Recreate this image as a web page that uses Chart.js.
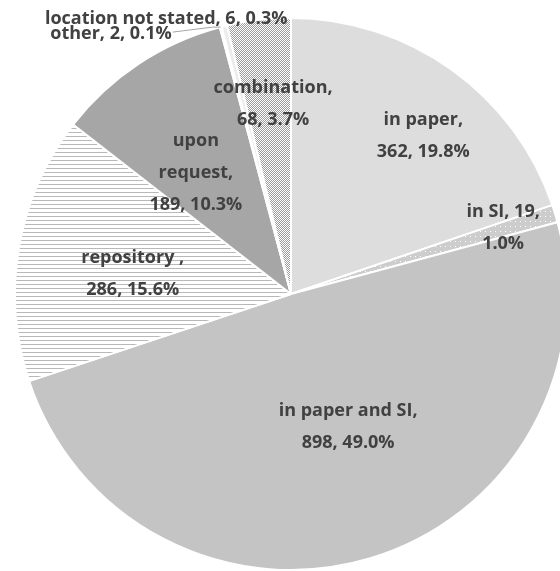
<!DOCTYPE html>
<html>
<head>
<meta charset="utf-8">
<script src="https://cdn.jsdelivr.net/npm/chart.js@4"></script>
<style>
  html, body { margin: 0; padding: 0; background: #fff; overflow: hidden; }
  #wrap { position: absolute; left: -1px; top: 0; width: 584px; height: 580px; }
</style>
</head>
<body>
<div id="wrap"><canvas id="pieChart"></canvas></div>
<script>
const categories = ["in paper", "in SI", "in paper and SI", "repository ", "upon request", "other", "location not stated", "combination"];
const counts = [362, 19, 898, 286, 189, 2, 6, 68];
const percents = ["19.8%", "1.0%", "49.0%", "15.6%", "10.3%", "0.1%", "0.3%", "3.7%"];

// fill patterns
function makePattern(size, bg, draw) {
  const c = document.createElement("canvas");
  c.width = size; c.height = size;
  const g = c.getContext("2d");
  g.fillStyle = bg;
  g.fillRect(0, 0, size, size);
  draw(g);
  return g.createPattern(c, "repeat");
}

const ctx = document.getElementById("pieChart").getContext("2d");

const dotted = makePattern(5, "#cdcdcd", g => { g.fillStyle = "#ffffff"; g.fillRect(1, 1, 1, 1); });
const striped = makePattern(4, "#ffffff", g => { g.fillStyle = "#b8b8b8"; g.fillRect(0, 0, 4, 1); });
const checker = makePattern(2, "#ffffff", g => { g.fillStyle = "#9c9c9c"; g.fillRect(0, 0, 1, 1); g.fillRect(1, 1, 1, 1); });

const fills = ["#dddddd", dotted, "#c4c4c4", striped, "#a6a6a6", "#d0d0d0", "#ececec", checker];

// label lines per slice; placed by radius fraction and a small angle shift (degrees)
const labelLines = [
  ["in paper,", "362, 19.8%"],
  ["in SI, 19,", "1.0%"],
  ["in paper and SI,", "898, 49.0%"],
  ["repository ,", "286, 15.6%"],
  ["upon", "request,", "189, 10.3%"],
  null,
  null,
  ["combination,", "68, 3.7%"]
];
const labelRadius = [0.747, 0.805, 0.525, 0.578, 0.558, 0, 0, 0.692];
const labelShift = [4.3, -0.4, -6.5, -2.5, -4.6, 0, 0, 1.3];

const sliceLabels = {
  id: "sliceLabels",
  afterDatasetsDraw(chart) {
    const c = chart.ctx;
    const arcs = chart.getDatasetMeta(0).data;
    c.save();
    c.fillStyle = "#414141";
    c.font = "bold 18px 'Open Sans', sans-serif";
    c.textAlign = "center";
    c.textBaseline = "middle";
    arcs.forEach((arc, i) => {
      const lines = labelLines[i];
      if (!lines) return;
      const mid = (arc.startAngle + arc.endAngle) / 2 + labelShift[i] * Math.PI / 180;
      const r = arc.outerRadius * labelRadius[i];
      const x = arc.x + Math.cos(mid) * r;
      const y = arc.y + Math.sin(mid) * r;
      const lh = 31.8;
      lines.forEach((t, k) => {
        c.fillText(t, x, y + (k - (lines.length - 1) / 2) * lh);
      });
    });

    // outside labels for the two tiny slices
    const other = arcs[5];
    const loc = arcs[6];
    const oMid = (other.startAngle + other.endAngle) / 2;
    const ox = other.x + Math.cos(oMid) * other.outerRadius;
    const oy = other.y + Math.sin(oMid) * other.outerRadius;
    c.strokeStyle = "#a6a6a6";
    c.lineWidth = 1;
    c.beginPath();
    c.moveTo(ox, oy);
    c.lineTo(ox - 8, oy);
    c.lineTo(ox - 48, oy + 5);
    c.stroke();
    c.textAlign = "right";
    c.fillText(categories[5] + ", " + counts[5] + ", " + percents[5], ox - 49, oy + 7);

    const lMid = (loc.startAngle + loc.endAngle) / 2;
    const lx = loc.x + Math.cos(lMid) * loc.outerRadius;
    const ly = loc.y + Math.sin(lMid) * loc.outerRadius;
    c.fillText(categories[6] + ", " + counts[6] + ", " + percents[6], lx + 63, ly - 7);
    c.restore();
  }
};

new Chart(ctx, {
  type: "pie",
  data: {
    labels: categories,
    datasets: [{
      data: counts,
      backgroundColor: fills,
      borderColor: "#ffffff",
      borderWidth: 2
    }]
  },
  options: {
    responsive: true,
    maintainAspectRatio: false,
    animation: false,
    layout: { padding: { top: 17, bottom: 9, left: 0, right: 0 } },
    plugins: {
      legend: { display: false },
      tooltip: { enabled: false }
    }
  },
  plugins: [sliceLabels]
});
</script>
</body>
</html>
